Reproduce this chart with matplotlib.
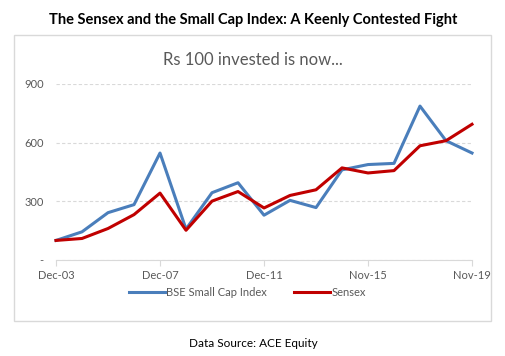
import matplotlib
matplotlib.use("Agg")
import matplotlib.pyplot as plt
from matplotlib.patches import Rectangle

# Rs 100 invested, value at each year end
periods = ["Dec-03", "Dec-04", "Dec-05", "Dec-06", "Dec-07", "Dec-08", "Dec-09", "Dec-10",
           "Dec-11", "Dec-12", "Dec-13", "Dec-14", "Nov-15", "Nov-16", "Nov-17", "Nov-18", "Nov-19"]
small_cap = [100, 144, 242, 283, 547, 158, 344, 395, 229, 305, 268, 461, 488, 494, 787, 610, 547]
sensex = [100, 110, 161, 232, 342, 152, 301, 350, 266, 330, 359, 471, 445, 457, 584, 610, 694]
y_ticks = [0, 300, 600, 900]
y_labels = ["-", "300", "600", "900"]

plt.rcParams['font.family'] = ['Lato', 'DejaVu Sans']

fig = plt.figure(figsize=(5.06, 3.56), dpi=100)
fig.patch.set_facecolor("white")

# chart box
fig.patches.append(Rectangle((0.028, 0.098), 0.942, 0.804, transform=fig.transFigure,
                             facecolor="white", edgecolor="#d9d9d9", linewidth=1, zorder=-1))

fig.text(0.5, 0.944, "The Sensex and the Small Cap Index: A Keenly Contested Fight",
         ha="center", va="center", fontsize=10.5, fontweight="bold", color="black")
fig.text(0.5, 0.832, "Rs 100 invested is now...", ha="center", va="center",
         fontsize=12, color="#595959")
fig.text(0.5, 0.036, "Data Source: ACE Equity", ha="center", va="center",
         fontsize=8.5, color="black")

ax = fig.add_axes([0.1107, 0.2697, 0.8221, 0.4944])
ax.patch.set_alpha(0)
x = list(range(len(periods)))
ax.plot(x, small_cap, color="#4a7ebb", linewidth=2.2, label="BSE Small Cap Index", clip_on=False)
ax.plot(x, sensex, color="#c00000", linewidth=2.2, label="Sensex", clip_on=False)

ax.set_xlim(0, len(periods) - 1)
ax.set_ylim(0, 900)
ax.set_yticks(y_ticks)
ax.set_yticklabels(y_labels)
ax.set_xticks(x[::4])
ax.set_xticklabels(periods[::4])
ax.tick_params(axis="y", length=0, labelsize=8, colors="#595959", pad=9)
ax.tick_params(axis="x", length=4, color="#d9d9d9", labelsize=8, labelcolor="#595959", pad=3)
for s in ["top", "right", "left"]:
    ax.spines[s].set_visible(False)
ax.spines["bottom"].set_color("#d9d9d9")
ax.grid(axis="y", color="#d9d9d9", linestyle=(0, (3, 2)), linewidth=0.8)
ax.set_axisbelow(True)

ax.legend(loc="center", bbox_to_anchor=(0.46, -0.185), ncol=2, frameon=False,
          fontsize=8, labelcolor="#595959", handlelength=3.2, handletextpad=0.1,
          columnspacing=2.5)

fig.savefig("out.png", dpi=100)
